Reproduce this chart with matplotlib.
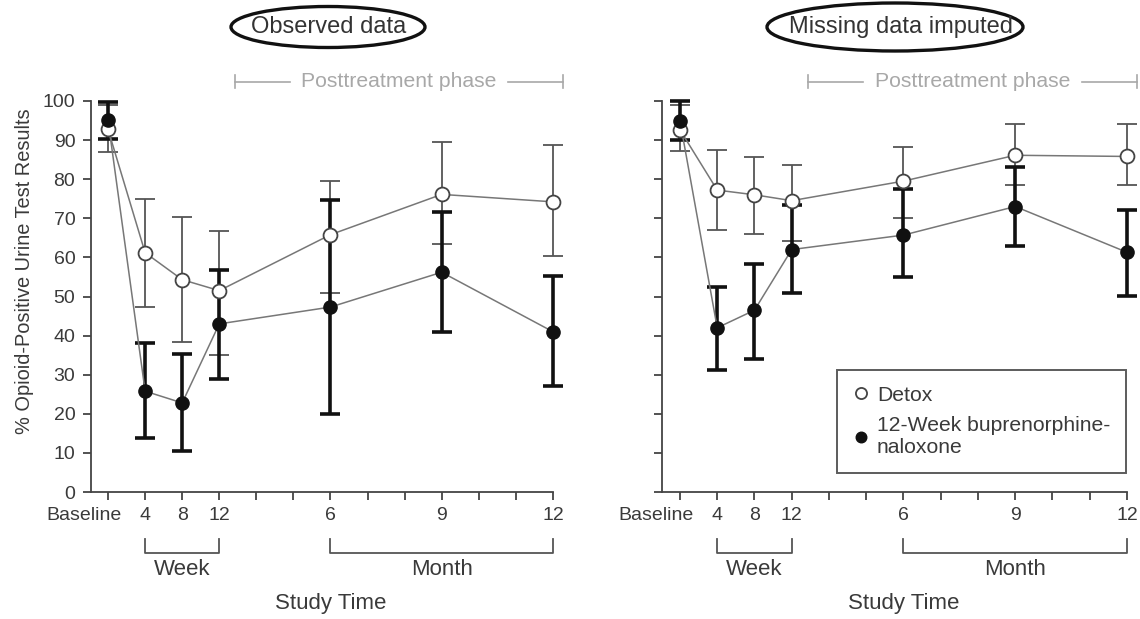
import matplotlib
matplotlib.use("Agg")
import matplotlib.pyplot as plt
import matplotlib.patches as mpatches
import matplotlib.transforms as mtransforms
import numpy as np

plt.rcParams['font.family'] = ['Liberation Sans', 'DejaVu Sans']

# x positions are in months (baseline = 0, week 4/8/12 ~ month 1/2/3)
x_pos = [0, 1, 2, 3, 6, 9, 12]
tick_pos = list(range(13))
tick_labels = ['Baseline', '4', '8', '12', '', '', '6', '', '', '9', '', '', '12']

# observed data
obs_detox = [92.7, 61.2, 54.3, 51.5, 65.8, 76.1, 74.2]
obs_detox_lo = [87.0, 47.2, 38.3, 35.0, 51.0, 63.3, 60.3]
obs_detox_hi = [99.0, 75.0, 70.2, 66.8, 79.5, 89.6, 88.7]
obs_bup = [95.0, 25.8, 22.8, 43.0, 47.3, 56.2, 41.0]
obs_bup_lo = [90.2, 13.8, 10.6, 29.0, 20.0, 41.0, 27.0]
obs_bup_hi = [99.7, 38.0, 35.2, 56.8, 74.7, 71.5, 55.2]

# missing data imputed
imp_detox = [92.6, 77.2, 76.0, 74.5, 79.5, 86.1, 85.8]
imp_detox_lo = [87.3, 67.0, 66.0, 64.3, 70.0, 78.5, 78.5]
imp_detox_hi = [99.0, 87.4, 85.7, 83.7, 88.2, 94.2, 94.2]
imp_bup = [94.9, 42.0, 46.5, 62.0, 65.7, 73.0, 61.3]
imp_bup_lo = [90.1, 31.3, 34.0, 51.0, 55.0, 62.8, 50.2]
imp_bup_hi = [100.0, 52.5, 58.3, 73.4, 77.5, 83.1, 72.1]

titles = ['Observed data', 'Missing data imputed']
legend_labels = ['Detox', '12-Week buprenorphine-\nnaloxone']

fig = plt.figure(figsize=(11.4, 6.19), dpi=100)
ax1 = fig.add_axes([0.0795, 0.205, 0.4055, 0.632])
ax2 = fig.add_axes([0.5811, 0.205, 0.4075, 0.632])

TXT = '#3a3a3a'
GREY = '#a8a8a8'


def draw_panel(ax, detox, dlo, dhi, bup, blo, bhi, show_ylabels):
    detox = np.array(detox); bup = np.array(bup)
    derr = [detox - np.array(dlo), np.array(dhi) - detox]
    berr = [bup - np.array(blo), np.array(bhi) - bup]

    ax.errorbar(x_pos, detox, yerr=derr, fmt='none', ecolor='#555555',
                elinewidth=1.3, capsize=7, capthick=1.3, clip_on=False, zorder=2)
    ax.errorbar(x_pos, bup, yerr=berr, fmt='none', ecolor='#111111',
                elinewidth=2.6, capsize=7, capthick=2.6, clip_on=False, zorder=3)
    ax.plot(x_pos, detox, '-', color='#777777', lw=1.1, zorder=4, clip_on=False)
    ax.plot(x_pos, bup, '-', color='#777777', lw=1.1, zorder=4, clip_on=False)
    ax.plot(x_pos, detox, 'o', ms=10, mfc='white', mec='#444444', mew=1.3,
            zorder=5, clip_on=False, label=legend_labels[0])
    ax.plot(x_pos, bup, 'o', ms=9.5, mfc='#111111', mec='#111111',
            zorder=6, clip_on=False, label=legend_labels[1])

    ax.set_xlim(-0.47, 12)
    ax.set_ylim(0, 100)
    ax.set_yticks(range(0, 101, 10))
    ax.set_xticks(tick_pos)
    ax.set_xticklabels(tick_labels)
    for s in ['top', 'right']:
        ax.spines[s].set_visible(False)
    for s in ['left', 'bottom']:
        ax.spines[s].set_color('#444444')
        ax.spines[s].set_linewidth(1.3)
    ax.tick_params(direction='out', length=6, width=1.3, color='#444444',
                   labelsize=14, labelcolor=TXT, pad=5)
    # "Baseline" sits left of its tick in the original
    base_lbl = ax.get_xticklabels()[0]
    base_lbl.set_transform(base_lbl.get_transform() +
                           mtransforms.ScaledTranslation(-24 / 100, 0, fig.dpi_scale_trans))
    if show_ylabels:
        ax.set_ylabel('% Opioid-Positive Urine Test Results', fontsize=14.4,
                      color=TXT)
        ax.yaxis.set_label_coords(-0.122, 0.565)
    else:
        ax.set_yticklabels([])

    # posttreatment phase marker
    ax.plot([3.43, 4.9], [104.9, 104.9], color=GREY, lw=1.2, clip_on=False)
    ax.plot([10.8, 12.26], [104.9, 104.9], color=GREY, lw=1.2, clip_on=False)
    ax.plot([3.43, 3.43], [103.3, 106.5], color=GREY, lw=1.2, clip_on=False)
    ax.plot([12.26, 12.26], [103.3, 106.5], color=GREY, lw=1.2, clip_on=False)
    ax.text(7.85, 104.9, 'Posttreatment phase', color=GREY, fontsize=15.2,
            ha='center', va='center', clip_on=False)

    # week / month brackets
    for a, b, lab in [(1, 3, 'Week'), (6, 12, 'Month')]:
        ax.plot([a, a, b, b], [-12.0, -15.6, -15.6, -12.0], color='#555555',
                lw=1.3, clip_on=False)
        ax.text((a + b) / 2, -19.9, lab, fontsize=16, color=TXT,
                ha='center', va='center', clip_on=False)
    ax.text(6, -28.5, 'Study Time', fontsize=16, color=TXT,
            ha='center', va='center', clip_on=False)


draw_panel(ax1, obs_detox, obs_detox_lo, obs_detox_hi,
           obs_bup, obs_bup_lo, obs_bup_hi, True)
draw_panel(ax2, imp_detox, imp_detox_lo, imp_detox_hi,
           imp_bup, imp_bup_lo, imp_bup_hi, False)

# circled titles (figure pixel coords)
for title, cx, tx, w, h in [(titles[0], 328, 329, 194, 41),
                            (titles[1], 895, 901, 256, 48)]:
    fig.text(tx / 1140, 1 - 27 / 619, title, fontsize=17, color='#333333',
             ha='center', va='center')
    e = mpatches.Ellipse((cx / 1140, 1 - 27 / 619), w / 1140, h / 619,
                         transform=fig.transFigure, fill=False,
                         ec='#111111', lw=2.4)
    fig.add_artist(e)

leg = ax2.legend(loc='lower right', bbox_to_anchor=(0.998, 0.048), fontsize=15.2,
                 frameon=True, fancybox=False, handletextpad=0.35,
                 borderpad=0.75, labelspacing=0.55, handlelength=0.8,
                 markerscale=0.8, borderaxespad=0)
leg.get_frame().set_edgecolor('#333333')
leg.get_frame().set_linewidth(1.4)
for t in leg.get_texts():
    t.set_color(TXT)

fig.savefig('out.png', dpi=100)
